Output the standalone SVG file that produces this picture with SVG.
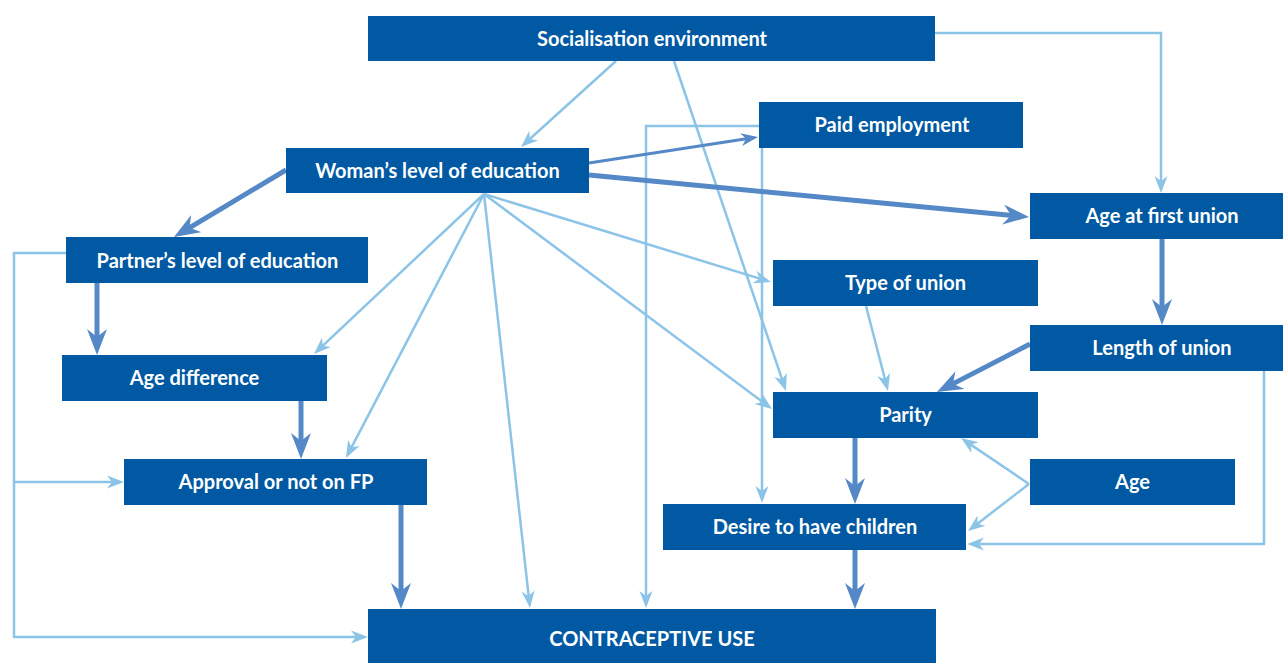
<svg xmlns="http://www.w3.org/2000/svg" width="1283" height="663" viewBox="0 0 1283 663">
  <style>
    .box { fill: #0059a2; }
    .lbl { fill: #ffffff; font-family: Lato, "Open Sans", "Liberation Sans", sans-serif; font-weight: 700; font-size: 20px; text-anchor: middle; }
    .lt { fill: none; stroke: #8cc4e8; stroke-width: 2.5; marker-end: url(#ahLight); }
    .dk { fill: none; stroke: #5588c6; stroke-width: 5; marker-end: url(#ahDark); }
    .dk-thin { fill: none; stroke: #5588c6; stroke-width: 3; marker-end: url(#ahDarkSmall); }
  </style>
  <defs>
    <marker id="ahLight" markerUnits="userSpaceOnUse" viewBox="0 -7 17 14" markerWidth="17" markerHeight="14" refX="7" refY="0" orient="auto">
      <path d="M0,-6.5 L17,0 L0,6.5 L5,0 Z" fill="#8cc4e8"/>
    </marker>
    <marker id="ahDarkSmall" markerUnits="userSpaceOnUse" viewBox="0 -7 17 14" markerWidth="17" markerHeight="14" refX="7" refY="0" orient="auto">
      <path d="M0,-6.5 L17,0 L0,6.5 L5,0 Z" fill="#5588c6"/>
    </marker>
    <marker id="ahDark" markerUnits="userSpaceOnUse" viewBox="0 -10 26 20" markerWidth="26" markerHeight="20" refX="12" refY="0" orient="auto">
      <path d="M0,-10 L26,0 L0,10 L8,0 Z" fill="#5588c6"/>
    </marker>
  </defs>

  <!-- connectors -->
  <g id="connectors">
    <!-- light links -->
    <path class="lt" d="M616,61 L528.4,140.3"/>
    <path class="lt" d="M674,61 L782.8,381.5"/>
    <path class="lt" d="M935,33 L1161,33 L1161,183"/>
    <path class="lt" d="M759,126 L646,126 L646,598"/>
    <path class="lt" d="M762,148 L762,493"/>
    <path class="lt" d="M484,194 L321.3,347.1"/>
    <path class="lt" d="M484,194 L350.6,449.1"/>
    <path class="lt" d="M484,194 L528.9,598.1"/>
    <path class="lt" d="M484,194 L764.0,403.0"/>
    <path class="lt" d="M484,194 L761.4,279.1"/>
    <path class="lt" d="M866,306 L885.5,381.3"/>
    <path class="lt" d="M1029,484 L969.3,443.6"/>
    <path class="lt" d="M1029,484 L975.9,524.9"/>
    <path class="lt" d="M1264,371 L1264,544 L977,544"/>
    <path class="lt" d="M66,253 L14,253 L14,637 L358,637"/>
    <path class="lt" d="M14,482 L114,482"/>
    <!-- strong links -->
    <path class="dk" d="M286,170 L186.0,229.8"/>
    <path class="dk-thin" d="M589,163 L748.1,138.5"/>
    <path class="dk" d="M589,175 L1015.1,215.7"/>
    <path class="dk" d="M1162,239 L1162,311"/>
    <path class="dk" d="M1030,344 L949.4,385.6"/>
    <path class="dk" d="M97,283 L97,341"/>
    <path class="dk" d="M301,401 L301,445"/>
    <path class="dk" d="M401,505 L401,595"/>
    <path class="dk" d="M855,438 L855,490"/>
    <path class="dk" d="M855,550 L855,595"/>
  </g>

  <!-- nodes -->
  <g id="socialisation">
    <rect class="box" x="368" y="16" width="567" height="45"/>
    <text class="lbl" x="652" y="45.5">Socialisation environment</text>
  </g>
  <g id="paid-employment">
    <rect class="box" x="759" y="102" width="264" height="46"/>
    <text class="lbl" x="892" y="132">Paid employment</text>
  </g>
  <g id="woman-education">
    <rect class="box" x="286" y="148" width="303" height="45"/>
    <text class="lbl" x="437.5" y="178">Woman’s level of education</text>
  </g>
  <g id="age-first-union">
    <rect class="box" x="1030" y="193" width="260" height="46"/>
    <text class="lbl" x="1162" y="223">Age at first union</text>
  </g>
  <g id="partner-education">
    <rect class="box" x="66" y="237" width="302" height="46"/>
    <text class="lbl" x="217.5" y="267.5">Partner’s level of education</text>
  </g>
  <g id="type-of-union">
    <rect class="box" x="773" y="260" width="265" height="46"/>
    <text class="lbl" x="905.5" y="290">Type of union</text>
  </g>
  <g id="length-of-union">
    <rect class="box" x="1030" y="325" width="260" height="46"/>
    <text class="lbl" x="1162" y="355">Length of union</text>
  </g>
  <g id="age-difference">
    <rect class="box" x="62" y="355" width="265" height="46"/>
    <text class="lbl" x="194.5" y="385">Age difference</text>
  </g>
  <g id="parity">
    <rect class="box" x="773" y="392" width="265" height="46"/>
    <text class="lbl" x="905.5" y="422">Parity</text>
  </g>
  <g id="approval-fp">
    <rect class="box" x="124" y="459" width="303" height="46"/>
    <text class="lbl" x="276" y="489">Approval or not on FP</text>
  </g>
  <g id="age">
    <rect class="box" x="1030" y="459" width="205" height="46"/>
    <text class="lbl" x="1132.5" y="489">Age</text>
  </g>
  <g id="desire-children">
    <rect class="box" x="663" y="504" width="303" height="46"/>
    <text class="lbl" x="815" y="534">Desire to have children</text>
  </g>
  <g id="contraceptive-use">
    <rect class="box" x="368" y="609" width="568" height="56"/>
    <text class="lbl" x="652" y="646">CONTRACEPTIVE USE</text>
  </g>
</svg>
